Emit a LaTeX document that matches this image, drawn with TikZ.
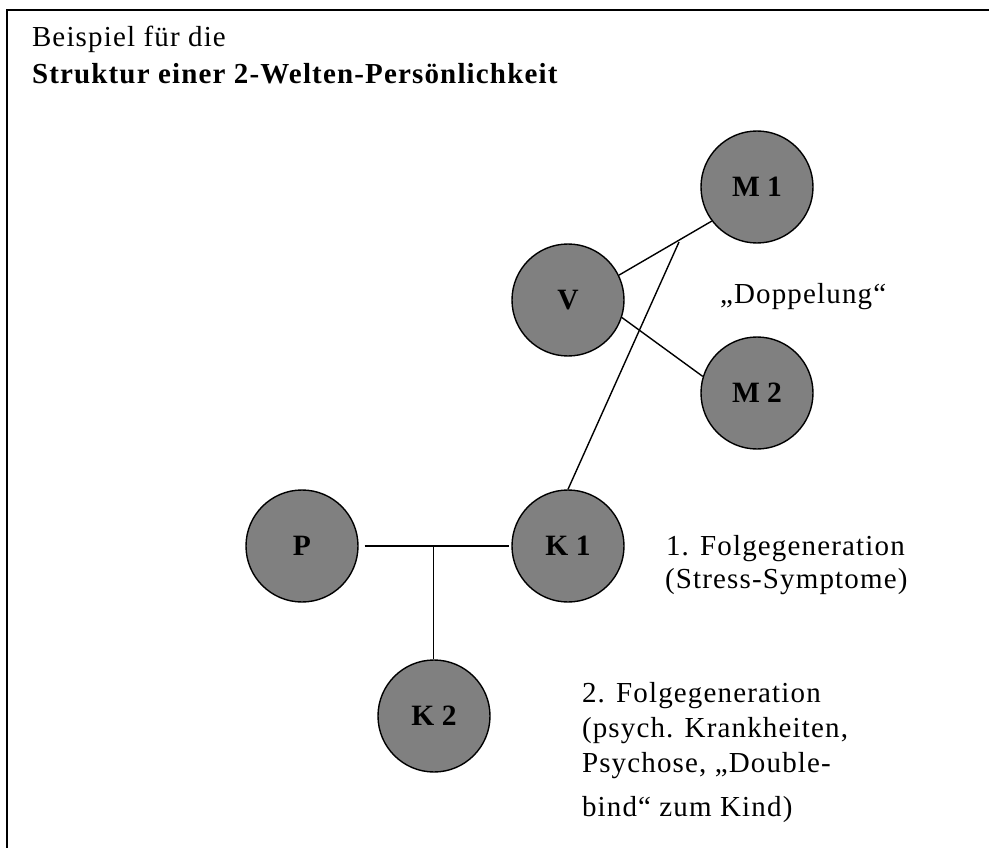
\documentclass[tikz,border=0pt]{standalone}
\usepackage{fontspec}
\setmainfont[LetterSpace=4.0]{Liberation Serif}
\newfontfamily\lblfont{Liberation Serif}
\definecolor{circgray}{HTML}{808080}
\begin{document}
\begin{tikzpicture}[x=1pt,y=-1pt,
  every node/.style={font=\fontsize{29}{34}\selectfont},
  txt/.style={anchor=base west,inner sep=0pt,outer sep=0pt},
  person/.style={circle,draw=black,fill=circgray,line width=1.4pt,minimum size=112pt,inner sep=0pt,font=\lblfont\fontsize{29.5}{33}\selectfont\bfseries},
  link/.style={line width=1.4pt}]
\useasboundingbox (0,0) rectangle (989,848);
\draw[line width=2pt] (7,849) -- (7,10) -- (990,10);
\node[txt] (t1) at (32,46.5) {Beispiel für die};
\node[txt] (t2) at (32,83.3) {\bfseries Struktur einer 2-Welten-Persönlichkeit};
\node[person] (M1) at (757,187) {M 1};
\node[person] (V) at (568,300) {V};
\node[person] (M2) at (757,393) {M 2};
\node[person] (P) at (302,546) {P};
\node[person] (K1) at (568,546) {K 1};
\node[person] (K2) at (434,716) {K 2};
\draw[link] (V.26) -- (M1.217);
\draw[link] (V.-18) -- (M2.163);
\coordinate (j) at (679,242);
\draw[link] (K1.north) -- (j);
\draw[link,shorten <=6pt,shorten >=2pt] (P) -- (K1);
\coordinate (m) at (433.5,546);
\draw[link] (m) -- (m |- K2.north);
\node[txt] (d) at (720,303) {„Doppelung“};
\node[txt] (f1a) at (666,555) {1. Folgegeneration};
\node[txt] (f1b) at (665,588) {(Stress-Symptome)};
\node[txt] (f2a) at (582,702) {2. Folgegeneration};
\node[txt] (f2b) at (582,737) {(psych. Krankheiten,};
\node[txt] (f2c) at (582,772) {Psychose, „Double-};
\node[txt] (f2d) at (582,816) {bind“ zum Kind)};
\end{tikzpicture}
\end{document}
